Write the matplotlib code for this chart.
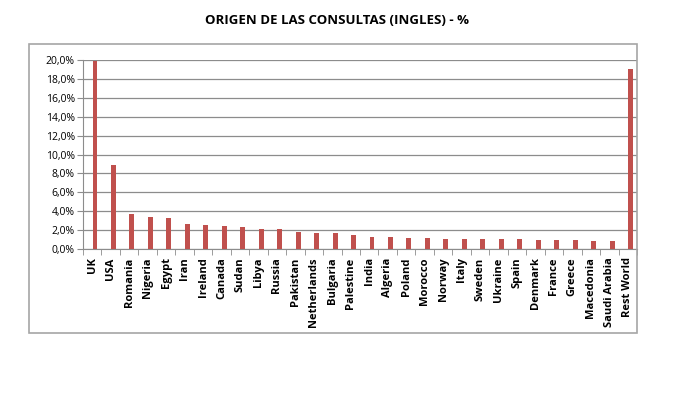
import matplotlib.pyplot as plt
from matplotlib.patches import Rectangle
from matplotlib.ticker import FuncFormatter, FixedLocator
import numpy as np

countries = ['UK', 'USA', 'Romania', 'Nigeria', 'Egypt', 'Iran', 'Ireland', 'Canada',
             'Sudan', 'Libya', 'Russia', 'Pakistan', 'Netherlands', 'Bulgaria',
             'Palestine', 'India', 'Algeria', 'Poland', 'Morocco', 'Norway', 'Italy',
             'Sweden', 'Ukraine', 'Spain', 'Denmark', 'France', 'Greece', 'Macedonia',
             'Saudi Arabia', 'Rest World']
shares = [19.9, 8.9, 3.7, 3.4, 3.3, 2.6, 2.5, 2.4,
          2.3, 2.1, 2.1, 1.8, 1.7, 1.7,
          1.5, 1.3, 1.3, 1.2, 1.2, 1.1, 1.1,
          1.1, 1.1, 1.1, 0.9, 0.9, 0.9, 0.8,
          0.8, 19.0]

plt.rcParams['font.family'] = ['Open Sans', 'DejaVu Sans']

fig = plt.figure(figsize=(6.74, 3.96), dpi=100)

# outer chart frame
fig.patches.append(Rectangle((29 / 674, 63 / 396), 608 / 674, 289 / 396,
                             transform=fig.transFigure, fill=False,
                             edgecolor='#a6a6a6', linewidth=1.2))

ax = fig.add_axes([83 / 674, 147 / 396, 554 / 674, 189 / 396])

x = np.arange(len(countries))
# bars sit a little right of the category centre, like in the original
ax.bar(x + 0.15, shares, width=0.27, color='#c0504d', zorder=3)

ax.set_xlim(-0.5, len(countries) - 0.5)
ax.set_ylim(0, 20)
ax.set_yticks(np.arange(0, 21, 2))
ax.yaxis.set_major_formatter(FuncFormatter(lambda v, p: f'{v:.1f}%'.replace('.', ',')))
ax.grid(axis='y', color='#8c8c8c', linewidth=0.9, zorder=0)

ax.set_xticks(x)
ax.set_xticklabels(countries, rotation=90, fontsize=8, fontweight='bold')
ax.tick_params(axis='x', length=0, pad=6)
ax.xaxis.set_minor_locator(FixedLocator(np.arange(-0.5, len(countries), 1)))
ax.tick_params(axis='x', which='minor', length=4, color='#8c8c8c')
ax.tick_params(axis='y', length=4, color='#8c8c8c', labelsize=7.5, pad=2)

for side in ['top', 'right']:
    ax.spines[side].set_visible(False)
for side in ['left', 'bottom']:
    ax.spines[side].set_color('#8c8c8c')

fig.text(337 / 674, 1 - 20 / 396, 'ORIGEN DE LAS CONSULTAS (INGLES) - %',
         ha='center', va='center', fontsize=9.5, fontweight='bold')

fig.savefig('out.png', dpi=100)
